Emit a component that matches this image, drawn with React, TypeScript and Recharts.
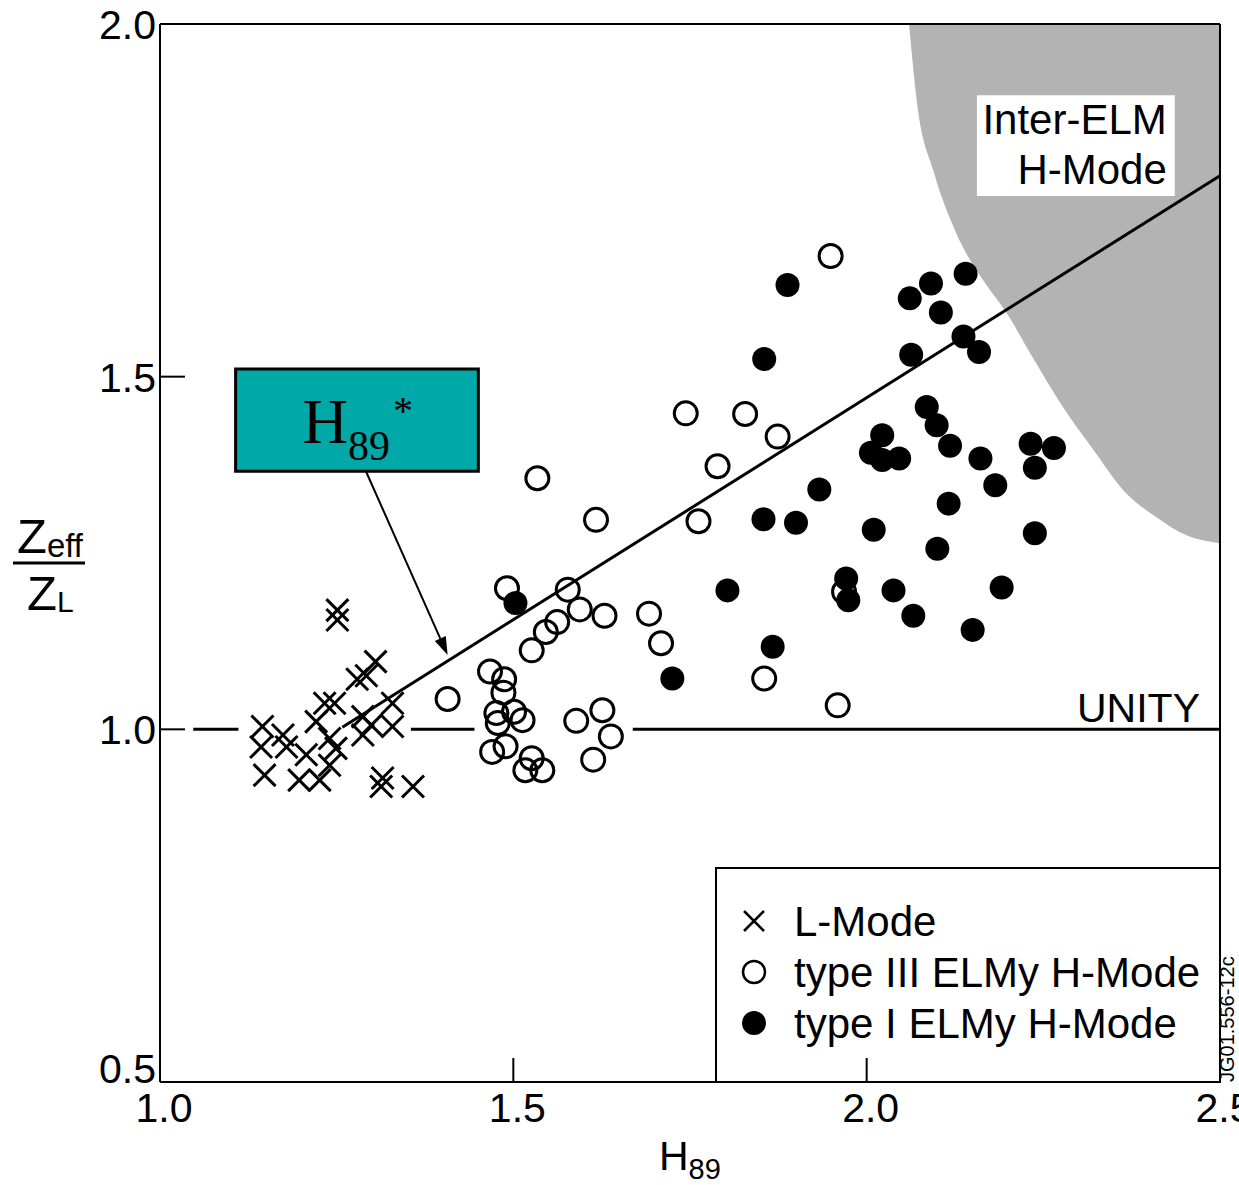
import {
  ComposedChart,
  Scatter,
  Line,
  Area,
  XAxis,
  YAxis,
  ReferenceLine,
  ReferenceArea,
  Legend,
} from 'recharts';

const SANS = '"Liberation Sans", Arial, Helvetica, sans-serif';
const SERIF = '"Liberation Serif", "Times New Roman", serif';

const xTicks = [1.0, 1.5, 2.0, 2.5];
const yTicks = [0.5, 1.0, 1.5, 2.0];

// [H89, Zeff/ZL]
const lMode = [
  [1.305, 1.096], [1.279, 1.071], [1.292, 1.076], [1.233, 1.037], [1.247, 1.037],
  [1.329, 1.037], [1.221, 1.011], [1.287, 1.018], [1.299, 1.006], [1.329, 1.004],
  [1.145, 1.004], [1.174, 0.992], [1.143, 0.975], [1.179, 0.975], [1.207, 0.964],
  [1.24, 0.987], [1.249, 0.973], [1.24, 0.949], [1.287, 0.992], [1.148, 0.935],
  [1.197, 0.928], [1.226, 0.928], [1.315, 0.931], [1.313, 0.919], [1.358, 0.919],
  [1.251, 1.169], [1.251, 1.155],
];

const typeIII = [
  [1.534, 1.356], [1.617, 1.297], [1.491, 1.2], [1.577, 1.198], [1.594, 1.17],
  [1.629, 1.161], [1.562, 1.152], [1.546, 1.138], [1.526, 1.112], [1.692, 1.164],
  [1.709, 1.122], [1.407, 1.043], [1.467, 1.082], [1.487, 1.071], [1.486, 1.052],
  [1.476, 1.023], [1.501, 1.025], [1.513, 1.013], [1.478, 1.009], [1.47, 0.968],
  [1.489, 0.976], [1.526, 0.959], [1.517, 0.942], [1.541, 0.942], [1.589, 1.012],
  [1.626, 1.027], [1.638, 0.99], [1.613, 0.957], [1.949, 1.671], [1.744, 1.448],
  [1.828, 1.447], [1.874, 1.415], [1.789, 1.373], [1.762, 1.295], [1.968, 1.195],
  [1.855, 1.072], [1.959, 1.034],
];

const typeI = [
  [1.503, 1.179], [1.888, 1.63], [1.855, 1.525], [1.933, 1.34], [1.854, 1.298],
  [1.9, 1.293], [1.803, 1.197], [1.971, 1.214], [1.974, 1.183], [1.867, 1.117],
  [1.725, 1.072], [2.14, 1.646], [2.091, 1.632], [2.061, 1.611], [2.105, 1.591],
  [2.137, 1.557], [2.159, 1.535], [2.063, 1.531], [2.085, 1.457], [2.099, 1.431],
  [2.022, 1.417], [2.006, 1.392], [2.022, 1.382], [2.046, 1.384], [2.118, 1.402],
  [2.161, 1.384], [2.232, 1.405], [2.265, 1.399], [2.238, 1.371], [2.182, 1.346],
  [2.116, 1.32], [2.01, 1.283], [2.238, 1.278], [2.1, 1.256], [2.038, 1.197],
  [2.191, 1.201], [2.066, 1.161], [2.15, 1.141],
];

// H89* trend line end points
const trend = [
  [1.258, 1.003],
  [2.5, 1.785],
];

// edge of the shaded inter-ELM H-mode region
const interElmEdge = [
  [2.06, 2.0], [2.071, 1.89], [2.095, 1.79], [2.126, 1.705], [2.168, 1.632],
  [2.197, 1.592], [2.235, 1.527], [2.277, 1.458], [2.321, 1.396], [2.364, 1.338],
  [2.408, 1.302], [2.455, 1.274], [2.5, 1.264],
];

// pieces of the broken unity line
const unitySegments = [
  [1.047, 1.111],
  [1.355, 1.445],
  [1.669, 2.5],
];

const legendItems = [
  { label: 'L-Mode', mark: 'cross' },
  { label: 'type III ELMy H-Mode', mark: 'open' },
  { label: 'type I ELMy H-Mode', mark: 'filled' },
];

const toPoints = (rows: number[][]) => rows.map(([x, y]) => ({ x, y }));

const CrossMark = ({ cx, cy }: any) => (
  <g stroke="#000" strokeWidth={3}>
    <line x1={cx - 11} y1={cy - 11} x2={cx + 11} y2={cy + 11} />
    <line x1={cx - 11} y1={cy + 11} x2={cx + 11} y2={cy - 11} />
  </g>
);

const OpenMark = ({ cx, cy }: any) => (
  <circle cx={cx} cy={cy} r={11.5} fill="none" stroke="#000" strokeWidth={3} />
);

const FilledMark = ({ cx, cy }: any) => <circle cx={cx} cy={cy} r={12} fill="#000" />;

const XTick = ({ x, y, payload }: any) => {
  const v = payload.value;
  const inner = v > 1 && v < 2.5;
  return (
    <g>
      {inner && <line x1={x} y1={y} x2={x} y2={y - 24} stroke="#000" strokeWidth={2} />}
      <text x={x + 4} y={y + 40} textAnchor="middle" fontFamily={SANS} fontSize={41} fill="#000">
        {v.toFixed(1)}
      </text>
    </g>
  );
};

const YTick = ({ x, y, payload }: any) => {
  const v = payload.value;
  const inner = v > 0.5 && v < 2;
  return (
    <g>
      {inner && <line x1={x} y1={y} x2={x + 25} y2={y} stroke="#000" strokeWidth={2} />}
      <text
        x={x - 4}
        y={v === 0.5 ? y + 1 : y + 15}
        textAnchor="end"
        fontFamily={SANS}
        fontSize={41}
        fill="#000"
      >
        {v.toFixed(1)}
      </text>
    </g>
  );
};

const ArrowShape = (p: any) => {
  const { x1, y1, x2, y2 } = p;
  if ([x1, y1, x2, y2].some((v) => typeof v !== 'number')) return null;
  const ang = Math.atan2(y2 - y1, x2 - x1);
  const len = 18;
  const half = 6;
  const bx = x2 - len * Math.cos(ang);
  const by = y2 - len * Math.sin(ang);
  const px = -Math.sin(ang) * half;
  const py = Math.cos(ang) * half;
  return (
    <g>
      <line x1={x1} y1={y1} x2={bx} y2={by} stroke="#000" strokeWidth={2} />
      <polygon points={`${x2},${y2} ${bx + px},${by + py} ${bx - px},${by - py}`} fill="#000" />
    </g>
  );
};

const H89StarLabel = ({ viewBox }: any) => {
  if (!viewBox) return null;
  return (
    <text x={viewBox.x + 67} y={viewBox.y + 74} fontFamily={SERIF} fontSize={63} fill="#000">
      H
      <tspan fontSize={42} dy={17}>89</tspan>
      <tspan fontSize={40} dy={-36} dx={3}>*</tspan>
    </text>
  );
};

const InterElmLabel = ({ viewBox }: any) => {
  if (!viewBox) return null;
  const right = viewBox.x + viewBox.width - 8;
  return (
    <text fontFamily={SANS} fontSize={42} fill="#000" textAnchor="end">
      <tspan x={right} y={viewBox.y + 39}>Inter-ELM</tspan>
      <tspan x={right} y={viewBox.y + 89}>H-Mode</tspan>
    </text>
  );
};

const LegendBox = () => (
  <svg width={506} height={216} style={{ display: 'block' }}>
    <rect x={1} y={1} width={504} height={214} fill="none" stroke="#000" strokeWidth={2} />
    {legendItems.map((item, i) => {
      const cy = 54 + i * 51;
      const cx = 39;
      let mark;
      if (item.mark === 'cross') {
        mark = (
          <g stroke="#000" strokeWidth={2.5}>
            <line x1={cx - 10} y1={cy - 10} x2={cx + 10} y2={cy + 10} />
            <line x1={cx - 10} y1={cy + 10} x2={cx + 10} y2={cy - 10} />
          </g>
        );
      } else if (item.mark === 'open') {
        mark = <circle cx={cx} cy={cy} r={11} fill="none" stroke="#000" strokeWidth={2.5} />;
      } else {
        mark = <circle cx={cx} cy={cy} r={12} fill="#000" />;
      }
      return (
        <g key={item.label}>
          {mark}
          <text x={79} y={cy + 15} fontFamily={SANS} fontSize={42} fill="#000">
            {item.label}
          </text>
        </g>
      );
    })}
  </svg>
);

export default function App() {
  const lModeData = toPoints(lMode);
  const typeIIIData = toPoints(typeIII);
  const typeIData = toPoints(typeI);
  const trendData = toPoints(trend);
  const edgeData = interElmEdge.map(([x, y]) => ({ x, y: [y, 2.0] }));

  return (
    <div style={{ position: 'absolute', left: 0, top: 0, width: 1239, height: 1185, background: '#fff' }}>
      <ComposedChart
        width={1239}
        height={1185}
        margin={{ top: 24, right: 19, left: 0, bottom: 0 }}
      >
        <XAxis
          type="number"
          dataKey="x"
          domain={[1, 2.5]}
          ticks={xTicks}
          allowDataOverflow
          height={103}
          tickSize={0}
          tickMargin={0}
          tick={<XTick />}
          axisLine={{ stroke: '#000', strokeWidth: 2 }}
        />
        <YAxis
          type="number"
          dataKey="y"
          domain={[0.5, 2]}
          ticks={yTicks}
          allowDataOverflow
          width={160}
          tickSize={0}
          tickMargin={0}
          tick={<YTick />}
          axisLine={{ stroke: '#000', strokeWidth: 2 }}
        />
        <Area
          data={edgeData}
          dataKey="y"
          type="monotone"
          fill="#b3b3b3"
          fillOpacity={1}
          stroke="none"
          isAnimationActive={false}
          legendType="none"
        />
        <ReferenceArea
          x1={2.156}
          x2={2.436}
          y1={1.756}
          y2={1.899}
          fill="#fff"
          fillOpacity={1}
          stroke="none"
          label={InterElmLabel}
        />
        <ReferenceLine y={2} stroke="#000" strokeWidth={2} />
        <ReferenceLine x={2.5} stroke="#000" strokeWidth={2} />
        {unitySegments.map(([a, b]) => (
          <ReferenceLine
            key={a}
            segment={[{ x: a, y: 1 }, { x: b, y: 1 }]}
            stroke="#000"
            strokeWidth={3}
          />
        ))}
        <ReferenceArea
          x1={1.107}
          x2={1.4505}
          y1={1.366}
          y2={1.511}
          fill="#00a8a8"
          fillOpacity={1}
          stroke="#000"
          strokeWidth={3}
          label={H89StarLabel}
        />
        <ReferenceLine
          segment={[{ x: 1.2917, y: 1.3652 }, { x: 1.407, y: 1.1054 }]}
          shape={ArrowShape}
        />
        <Line
          data={trendData}
          dataKey="y"
          type="linear"
          stroke="#000"
          strokeWidth={3}
          dot={false}
          isAnimationActive={false}
          legendType="none"
        />
        <Scatter data={lModeData} name="L-Mode" shape={CrossMark} isAnimationActive={false} />
        <Scatter data={typeIIIData} name="type III ELMy H-Mode" shape={OpenMark} isAnimationActive={false} />
        <Scatter data={typeIData} name="type I ELMy H-Mode" shape={FilledMark} isAnimationActive={false} />
        <Legend
          layout="horizontal"
          align="center"
          verticalAlign="middle"
          content={<LegendBox />}
          wrapperStyle={{ position: 'absolute', left: 715, top: 867, width: 506, height: 216 }}
        />
      </ComposedChart>
      <svg
        width={1239}
        height={1185}
        style={{ position: 'absolute', left: 0, top: 0, pointerEvents: 'none' }}
      >
        <text x={17} y={553} fontFamily={SANS} fontSize={49} fill="#000">
          Z<tspan fontSize={33} dy={4}>eff</tspan>
        </text>
        <line x1={13} x2={85} y1={563} y2={563} stroke="#000" strokeWidth={3} />
        <text x={27} y={610} fontFamily={SANS} fontSize={49} fill="#000">
          Z<tspan fontSize={30} dy={2}>L</tspan>
        </text>
        <text x={1200} y={722} textAnchor="end" fontFamily={SANS} fontSize={41} fill="#000">
          UNITY
        </text>
        <text x={659} y={1170} fontFamily={SANS} fontSize={41} fill="#000">
          H<tspan fontSize={29} dy={9}>89</tspan>
        </text>
        <text transform="translate(1234,1082) rotate(-90)" fontFamily={SANS} fontSize={20} fill="#000">
          JG01.556-12c
        </text>
      </svg>
    </div>
  );
}
